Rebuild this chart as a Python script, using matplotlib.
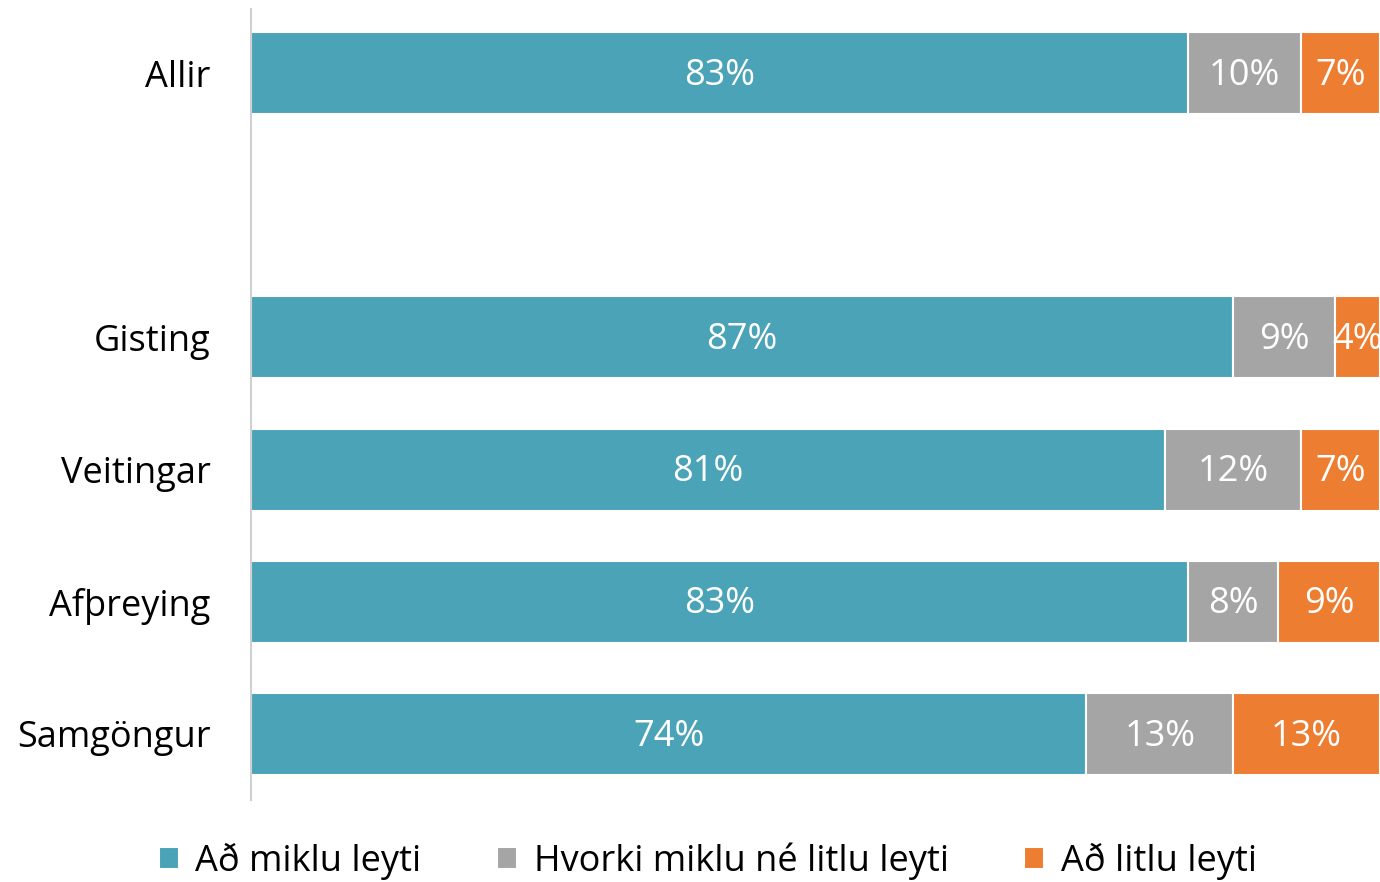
import matplotlib
matplotlib.use("Agg")
import matplotlib.pyplot as plt
import numpy as np

plt.rcParams['font.family'] = ['Open Sans', 'DejaVu Sans']

categories = ["Allir", "", "Gisting", "Veitingar", "Afþreying", "Samgöngur"]
series_names = ["Að miklu leyti", "Hvorki miklu né litlu leyti", "Að litlu leyti"]
mikið = [83, None, 87, 81, 83, 74]
hvorki = [10, None, 9, 12, 8, 13]
litið = [7, None, 4, 7, 9, 13]
colors = ["#4BA3B8", "#A5A5A5", "#ED7D31"]

fig = plt.figure(figsize=(13.8, 8.82), dpi=100)
ax = fig.add_axes([251/1380, 1-800/882, 1-251/1380, (800-7)/882])

ypos = np.arange(len(categories))
series = [mikið, hvorki, litið]
left = np.zeros(len(categories))
for vals, col, name in zip(series, colors, series_names):
    v = np.array([x if x is not None else 0 for x in vals], dtype=float)
    mask = np.array([x is not None for x in vals])
    ax.barh(ypos[mask], v[mask], left=left[mask], height=0.62, color=col,
            edgecolor="white", linewidth=1.5, label=name)
    for y, l, w in zip(ypos[mask], left[mask], v[mask]):
        ax.text(l + w/2, y + 0.02, f"{int(w)}%", ha="center", va="center", color="white",
                fontsize=26, clip_on=True)
    left = left + v

ax.set_xlim(0, 100)
ax.set_ylim(5.5, -0.5)
ax.set_yticks(ypos)
ax.set_yticklabels(categories, fontsize=26)
ax.tick_params(axis="y", length=0, pad=29)
ax.set_xticks([])
for s in ["top", "right", "bottom"]:
    ax.spines[s].set_visible(False)
ax.spines["left"].set_color("#D0D0D0")
ax.spines["left"].set_linewidth(1.5)
ax.spines["left"].set_bounds(-0.5 + 0.015, 5.5)

fig.legend(loc="center", bbox_to_anchor=(0.513, 1-861/882), ncol=3, frameon=False,
           fontsize=26, handlelength=0.55, handleheight=0.55, handletextpad=0.45,
           columnspacing=2.1)

fig.savefig("out.png", dpi=100)
